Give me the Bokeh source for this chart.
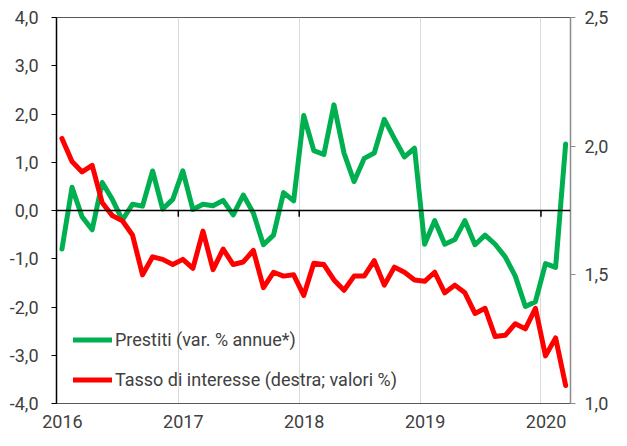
from bokeh.plotting import figure
from bokeh.models import Range1d, LinearAxis, FixedTicker, Span, Legend, LegendItem
from bokeh.embed import file_html
from bokeh.resources import INLINE

# ---- data (monthly, Jan 2016 .. Mar 2020) ----
MONTHS = list(range(51))
YEAR_LABELS = ["2016", "2017", "2018", "2019", "2020"]
YEAR_START_MONTHS = [0, 12, 24, 36, 48]
LEFT_TICKS = [4.0, 3.0, 2.0, 1.0, 0.0, -1.0, -2.0, -3.0, -4.0]
RIGHT_TICKS = [2.5, 2.0, 1.5, 1.0]

prestiti = [-0.80, 0.48, -0.13, -0.40, 0.58, 0.23, -0.20, 0.13, 0.09, 0.82, 0.03, 0.23,
            0.82, 0.02, 0.13, 0.10, 0.21, -0.09, 0.32, -0.05, -0.71, -0.51, 0.37, 0.20,
            1.97, 1.24, 1.16, 2.19, 1.19, 0.60, 1.08, 1.19, 1.89, 1.49, 1.11, 1.29,
            -0.70, -0.21, -0.70, -0.60, -0.21, -0.71, -0.51, -0.70, -0.96, -1.36, -1.99, -1.89,
            -1.10, -1.18, 1.38]

tasso = [2.03, 1.94, 1.90, 1.925, 1.78, 1.73, 1.71, 1.655, 1.50, 1.57, 1.56, 1.54,
         1.56, 1.525, 1.67, 1.52, 1.60, 1.54, 1.55, 1.595, 1.45, 1.51, 1.495, 1.50,
         1.42, 1.545, 1.54, 1.48, 1.44, 1.495, 1.495, 1.555, 1.46, 1.53, 1.51, 1.48,
         1.475, 1.51, 1.43, 1.46, 1.43, 1.35, 1.37, 1.26, 1.265, 1.31, 1.29, 1.37,
         1.185, 1.255, 1.07]

GREEN = "#00B050"
RED = "#FF0000"
TXT = "#404040"
FONT = "Roboto"

MID = 0.45  # points drawn mid-month
xs = [m + MID for m in MONTHS]

p = figure(width=611, height=430, output_backend="svg", toolbar_location=None,
           x_range=Range1d(-0.09, 50.93), y_range=Range1d(-4, 4),
           min_border_left=56, min_border_right=39, min_border_top=17, min_border_bottom=26)
p.background_fill_color = "white"
p.border_fill_color = "white"
p.outline_line_color = "#595959"
p.outline_line_width = 1

p.extra_y_ranges = {"right": Range1d(1.0, 2.5)}

# grid: vertical year lines only
p.ygrid.visible = False
p.xgrid.ticker = FixedTicker(ticks=YEAR_START_MONTHS[1:])
p.xgrid.grid_line_color = "#D9D9D9"
p.xgrid.grid_line_width = 1

# bottom axis: year labels
xa = p.xaxis[0]
xa.ticker = FixedTicker(ticks=[m + 0.5 for m in YEAR_START_MONTHS])
xa.major_label_overrides = {m + 0.5: lab for m, lab in zip(YEAR_START_MONTHS, YEAR_LABELS)}
xa.major_tick_line_color = None
xa.minor_tick_line_color = None
xa.axis_line_color = "#595959"
xa.major_label_standoff = 5
xa.major_label_text_font = FONT
xa.major_label_text_font_size = "18px"
xa.major_label_text_color = TXT

# left axis
ya = p.yaxis[0]
ya.ticker = FixedTicker(ticks=LEFT_TICKS)
ya.major_label_overrides = {v: f"{v:.1f}".replace(".", ",") for v in LEFT_TICKS}
ya.axis_line_color = "black"
ya.axis_line_width = 1.5
ya.major_tick_line_color = "black"
ya.major_tick_out = 5
ya.major_tick_in = 0
ya.minor_tick_line_color = None
ya.major_label_standoff = 13
ya.major_label_text_font = FONT
ya.major_label_text_font_size = "18px"
ya.major_label_text_color = TXT

# right axis
ra = LinearAxis(y_range_name="right", ticker=FixedTicker(ticks=RIGHT_TICKS))
ra.major_label_overrides = {v: f"{v:.1f}".replace(".", ",") for v in RIGHT_TICKS}
ra.axis_line_color = "#8C8C8C"
ra.axis_line_width = 1.5
ra.major_tick_line_color = "#8C8C8C"
ra.major_tick_out = 5
ra.major_tick_in = 0
ra.minor_tick_line_color = None
ra.major_label_standoff = 9
ra.major_label_text_font = FONT
ra.major_label_text_font_size = "18px"
ra.major_label_text_color = TXT
p.add_layout(ra, "right")

# zero line with year ticks
p.add_layout(Span(location=0, dimension="width", line_color="black", line_width=1.5))
p.segment(x0=YEAR_START_MONTHS[1:], y0=[0] * 4, x1=YEAR_START_MONTHS[1:], y1=[-0.13] * 4,
          line_color="black", line_width=1.5)

g = p.line(xs, prestiti, line_color=GREEN, line_width=5, line_join="round", line_cap="round")
r = p.line(xs, tasso, line_color=RED, line_width=5, line_join="round", line_cap="round",
           y_range_name="right")

legend = Legend(items=[LegendItem(label="Prestiti (var. % annue*)", renderers=[g]),
                       LegendItem(label="Tasso di interesse (destra; valori %)", renderers=[r])],
                location=(17, 13), orientation="vertical")
legend.padding = 0
legend.margin = 0
legend.border_line_color = None
legend.background_fill_alpha = 0
legend.glyph_width = 39
legend.glyph_height = 21
legend.label_height = 21
legend.spacing = 19
legend.label_standoff = 3
legend.label_text_font = FONT
legend.label_text_font_size = "18px"
legend.label_text_color = TXT
p.add_layout(legend, "center")

open("out.html", "w").write(file_html(p, INLINE))
